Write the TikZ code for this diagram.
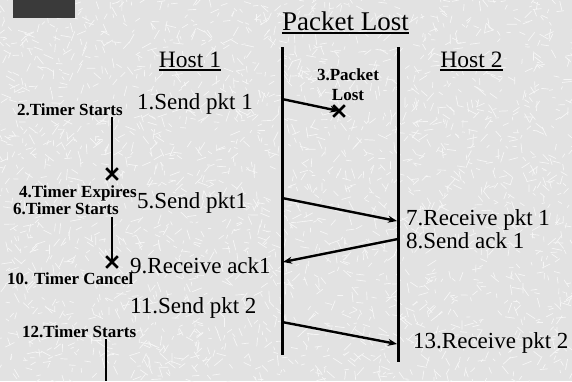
\documentclass[tikz,border=0pt]{standalone}
\usepackage{fontspec}
\setmainfont{Liberation Serif}
\usetikzlibrary{arrows.meta,shapes.misc}
\definecolor{paper}{HTML}{E2E2E2}
\definecolor{fleck}{HTML}{F6F6F6}
\definecolor{slate}{HTML}{3A3A3A}
\tikzset{
  lifeline/.style={line width=3pt},
  msg/.style={line width=2.4pt,-{Stealth[length=9pt,width=7pt]}},
  timerline/.style={line width=2pt},
  lostmark/.style={cross out,draw,line width=2.6pt,minimum size=9pt,inner sep=0pt},
  evtxt/.style={font=\fontsize{23}{26}\selectfont,inner sep=0pt,anchor=base west},
  timertxt/.style={font=\bfseries\fontsize{17}{19}\selectfont,inner sep=0pt,anchor=base west},
  headtxt/.style={font=\fontsize{23.5}{27}\selectfont,inner sep=0pt,anchor=base},
  titletxt/.style={font=\fontsize{27}{30}\selectfont,inner sep=0pt,anchor=base},
}
\newcommand{\ulnode}[1]{\draw[line width=1.3pt] ([yshift=-3pt]#1.base west) -- ([yshift=-3pt]#1.base east);}
\begin{document}
\begin{tikzpicture}[x=1pt,y=-1pt]
  % paper with fine light flecks
  \fill[paper] (0,0) rectangle (572,381);
  \useasboundingbox (0,0) rectangle (572,381);
  \pgfmathsetseed{4217}
  \begin{scope}
    \clip (0,0) rectangle (572,381);
    \foreach \i in {1,...,2600}{
      \pgfmathsetmacro{\px}{572*rnd}
      \pgfmathsetmacro{\py}{381*rnd}
      \pgfmathsetmacro{\pa}{360*rnd}
      \pgfmathsetmacro{\pl}{3+8*rnd}
      \draw[fleck,line width=0.7pt] (\px,\py) -- ++(\pa:\pl);
    }
  \end{scope}
  \fill[slate] (13,0) rectangle (75,18);

  % title and host headings
  \node[titletxt] (title) at (345.5,30) {Packet Lost};
  \ulnode{title}
  \node[headtxt] (hostA) at (190,67) {Host 1};
  \ulnode{hostA}
  \node[headtxt] (hostB) at (471.5,67) {Host 2};
  \ulnode{hostB}

  % lifelines
  \coordinate (aTop) at (282,47);
  \coordinate (aBot) at (282,355);
  \coordinate (bTop) at (398,47);
  \coordinate (bBot) at (398,362);
  \draw[lifeline] (aTop) -- (aBot);
  \draw[lifeline] (bTop) -- (bBot);

  % message end points on the lifelines
  \coordinate (m1s) at (282,99);
  \coordinate (m5s) at (282,198);
  \coordinate (m5e) at (397,221);
  \coordinate (m8s) at (398,239);
  \coordinate (m8e) at (283,262);
  \coordinate (m11s) at (282,322);
  \coordinate (m11e) at (397,344);

  % lost packet
  \node[lostmark] (lost) at (339,111) {};
  \draw[msg] (m1s) -- (lost.center);
  \node[timertxt,anchor=base] (lostA) at (348,80) {3.Packet};
  \node[timertxt,anchor=base] (lostB) at (348,100) {Lost};

  % messages
  \draw[msg] (m5s) -- (m5e);
  \draw[msg] (m8s) -- (m8e);
  \draw[msg] (m11s) -- (m11e);

  % event labels
  \node[evtxt] (e1) at (137,109) {1.Send pkt 1};
  \node[evtxt] (e5) at (137,208) {5.Send pkt1};
  \node[evtxt] (e7) at (406,225) {7.Receive pkt 1};
  \node[evtxt] (e8) at (406,248) {8.Send ack 1};
  \node[evtxt] (e9) at (130,273) {9.Receive ack1};
  \node[evtxt] (e11) at (130,313) {11.Send pkt 2};
  \node[evtxt] (e13) at (413,348) {13.Receive pkt 2};

  % timer labels
  \node[timertxt] (t2) at (17,115) {2.Timer Starts};
  \node[timertxt] (t4) at (19,197) {4.Timer Expires};
  \node[timertxt] (t6) at (13,214) {6.Timer Starts};
  \node[timertxt] (t10) at (7,284) {10. Timer Cancel};
  \node[timertxt] (t12) at (22,337) {12.Timer Starts};

  % timers
  \node[lostmark] (x1) at (112,174) {};
  \node[lostmark] (x2) at (112,262) {};
  \coordinate (r1) at (112,117);
  \coordinate (r2) at (112,217);
  \coordinate (r3) at (106,339);
  \coordinate (r3e) at (106,381);
  \draw[timerline] (r1) -- (x1.center);
  \draw[timerline] (r2) -- (x2.center);
  \draw[timerline] (r3) -- (r3e);
\end{tikzpicture}
\end{document}
